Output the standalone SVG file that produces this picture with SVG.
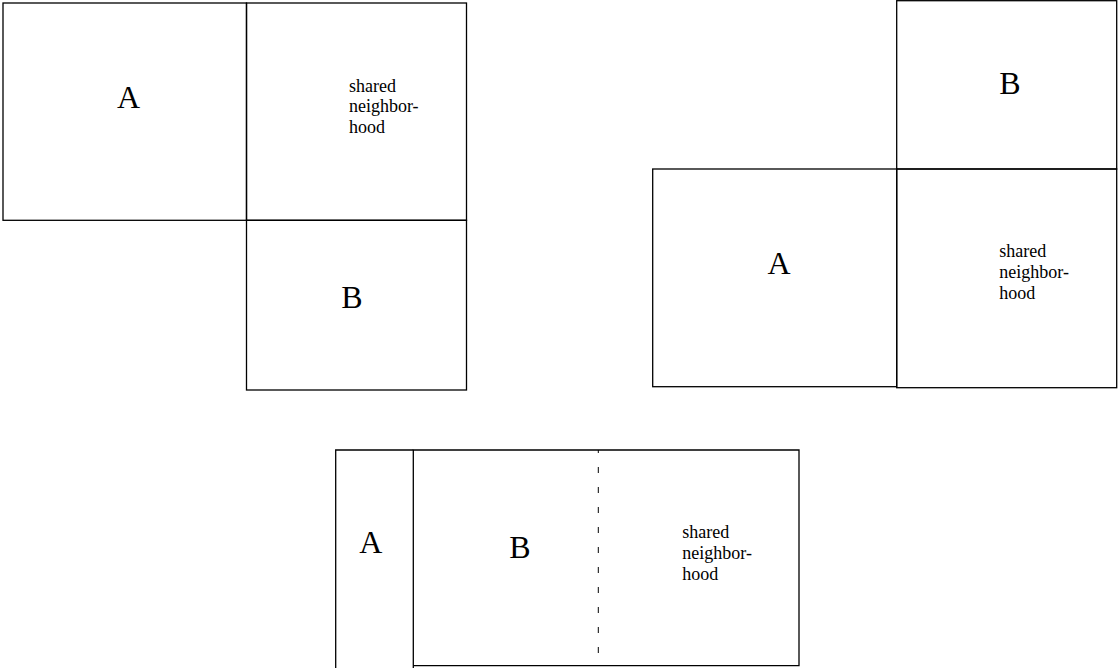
<svg xmlns="http://www.w3.org/2000/svg" width="1118" height="668" viewBox="0 0 1118 668">
<style>
.box{fill:none;stroke:#000;stroke-width:1.3}
.big{font-family:"Liberation Serif","Times New Roman",serif;font-size:32px;fill:#000;text-anchor:middle}
.small{font-family:"Liberation Serif","Times New Roman",serif;font-size:18px;fill:#000}
</style>
<rect width="1118" height="668" fill="#fff"/>
<g id="diagram1">
<g id="d1-A"><rect class="box" x="3" y="3" width="243.5" height="217.3"/><text class="big" x="128.5" y="108">A</text></g>
<g id="d1-shared"><rect class="box" x="246.5" y="3" width="220" height="217.3"/><text class="small" x="349" y="91.5"><tspan x="349">shared</tspan><tspan x="349" dy="20.8">neighbor-</tspan><tspan x="349" dy="20.8">hood</tspan></text></g>
<g id="d1-B"><rect class="box" x="246.5" y="220.3" width="220" height="169.7"/><text class="big" x="352" y="308">B</text></g>
</g>
<g id="diagram2">
<g id="d2-B"><rect class="box" x="896.7" y="0.7" width="220" height="168.3"/><text class="big" x="1010" y="94.3">B</text></g>
<g id="d2-A"><rect class="box" x="652.7" y="169" width="244" height="217.7"/><text class="big" x="779" y="274.3">A</text></g>
<g id="d2-shared"><rect class="box" x="896.7" y="169" width="220" height="218.7"/><text class="small" x="999.3" y="256.7"><tspan x="999.3">shared</tspan><tspan x="999.3" dy="21">neighbor-</tspan><tspan x="999.3" dy="21">hood</tspan></text></g>
</g>
<g id="diagram3">
<g id="d3-A"><path class="box" d="M335.7 668 V450 H413.3"/><text class="big" x="370.7" y="553.3">A</text></g>
<g id="d3-B"><path class="box" d="M413.3 668 V665.7 H799 V450 H413.3 V668"/><text class="big" x="520" y="557.7">B</text></g>
<g id="d3-shared"><text class="small" x="682.3" y="538.3"><tspan x="682.3">shared</tspan><tspan x="682.3" dy="20.8">neighbor-</tspan><tspan x="682.3" dy="20.8">hood</tspan></text></g>
</g>
<g id="connectors">
<line x1="598.3" y1="450" x2="598.3" y2="666" stroke="#000" stroke-width="1" stroke-dasharray="6 14" stroke-dashoffset="3"/>
</g>
</svg>
